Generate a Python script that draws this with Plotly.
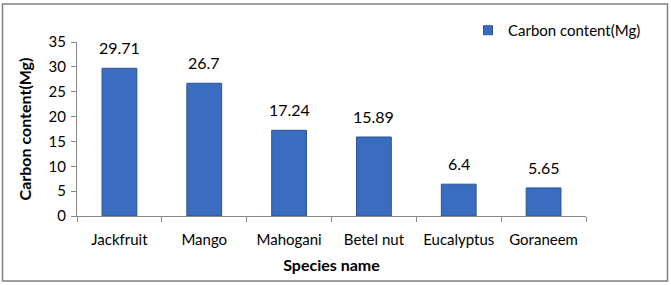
import plotly.graph_objects as go

species = ["Jackfruit", "Mango", "Mahogani", "Betel nut", "Eucalyptus", "Goraneem"]
carbon = [29.71, 26.7, 17.24, 15.89, 6.4, 5.65]
labels = ["29.71", "26.7", "17.24", "15.89", "6.4", "5.65"]
y_ticks = [0, 5, 10, 15, 20, 25, 30, 35]

FONT = "Lato, 'Open Sans', sans-serif"

fig = go.Figure()
fig.add_trace(go.Bar(
    x=species, y=carbon, name="Carbon content(Mg)", showlegend=False,
    marker=dict(color="#3A6DBF", line=dict(color="#2B5394", width=1)),
    width=0.41,
))
# legend entry with a small square marker
fig.add_trace(go.Scatter(
    x=[None], y=[None], mode="markers", name="Carbon content(Mg)",
    marker=dict(symbol="square", size=9, color="#3A6DBF", line=dict(color="#2B5394", width=1)),
))

for s, v, t in zip(species, carbon, labels):
    fig.add_annotation(x=s, y=v, text=t, showarrow=False, yanchor="bottom", yshift=9,
                       font=dict(family=FONT, size=16, color="#000"))

L, R, T, B = 77, 586, 42, 216
W, H = 671, 285
pw, ph = R - L, B - T

def px(x):
    return (x - L) / pw

def py(y):
    return (B - y) / ph

fig.update_layout(
    width=W, height=H,
    margin=dict(l=L, r=W - R, t=T, b=H - B, pad=0),
    paper_bgcolor="white", plot_bgcolor="white",
    font=dict(family=FONT, size=14, color="#000"),
    showlegend=True,
    legend=dict(x=px(468), y=py(14), xanchor="left", yanchor="top",
                font=dict(family=FONT, size=15, color="#000"),
                itemwidth=30, bgcolor="rgba(0,0,0,0)"),
    xaxis=dict(
        type="category", range=[-0.5, 5.5], tickson="boundaries",
        ticks="outside", ticklen=5, tickcolor="#888",
        showline=True, linecolor="#888", linewidth=1,
        showgrid=False, tickfont=dict(family=FONT, size=15),
        ticklabelstandoff=10,
        title=dict(text="<b>Species name</b>", font=dict(family=FONT, size=16), standoff=12),
    ),
    yaxis=dict(
        range=[0, 35], tickvals=y_ticks, ticks="outside", ticklen=5, tickcolor="#888",
        showline=True, linecolor="#888", linewidth=1, showgrid=False, zeroline=False,
        tickfont=dict(family=FONT, size=15), ticklabelstandoff=2,
        title=dict(text="<b>Carbon content(Mg)</b>", font=dict(family=FONT, size=16), standoff=12),
    ),
    shapes=[dict(type="rect", xref="paper", yref="paper",
                 x0=px(2.5), x1=px(667.5), y0=py(281), y1=py(4),
                 line=dict(color="#808080", width=1.5), fillcolor="rgba(0,0,0,0)", layer="above")],
)

fig.write_html("out.html", config={"displayModeBar": False},
               post_script="document.body.style.margin='0';document.body.style.padding='0';document.body.style.overflow='hidden';")
